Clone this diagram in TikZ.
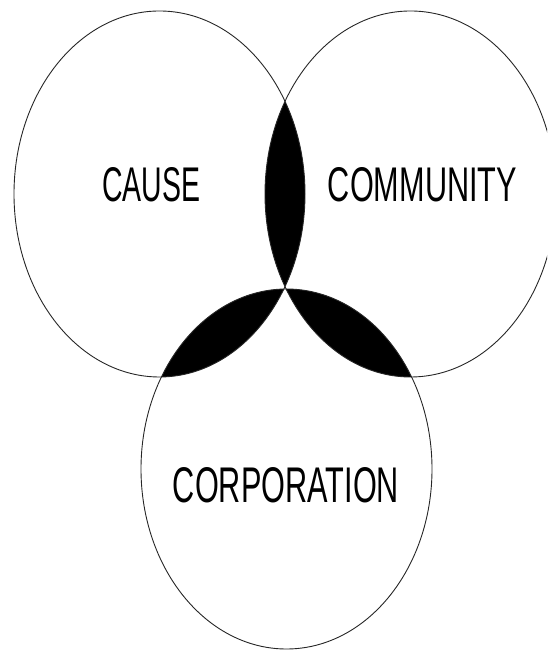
\documentclass[tikz,border=0pt]{standalone}
\usepackage{graphicx}
\usepackage{fontspec}
\setmainfont{Liberation Sans}
\begin{document}
\begin{tikzpicture}[x=1pt,y=1pt,
  ring/.style={draw=black!85,line width=0.9pt},
  lbl/.style={inner sep=0pt,text=black}]
\useasboundingbox (0,0) rectangle (547,650);
\clip (0,0) rectangle (547,650);
\coordinate (cl) at (159.5,456);
\coordinate (cr) at (410.5,456);
\coordinate (cb) at (286.5,181);
% lenses
\begin{scope}
  \clip (cl) ellipse [x radius=145.5,y radius=183];
  \fill[black] (cr) ellipse [x radius=145.5,y radius=183];
  \fill[black] (cb) ellipse [x radius=145.5,y radius=180];
\end{scope}
\begin{scope}
  \clip (cr) ellipse [x radius=145.5,y radius=183];
  \fill[black] (cb) ellipse [x radius=145.5,y radius=180];
\end{scope}
% outlines
\draw[ring] (cl) ellipse [x radius=145.5,y radius=183];
\draw[ring] (cr) ellipse [x radius=145.5,y radius=183];
\draw[ring] (cb) ellipse [x radius=145.5,y radius=180];
% labels
\node[lbl] (cause) at (151,465) {\resizebox{98pt}{34pt}{CAUSE}};
\node[lbl] (community) at (422.5,465) {\resizebox{189pt}{34pt}{COMMUNITY}};
\node[lbl] (corporation) at (286,165) {\resizebox{226pt}{35pt}{CORPORATION}};
\end{tikzpicture}
\end{document}
